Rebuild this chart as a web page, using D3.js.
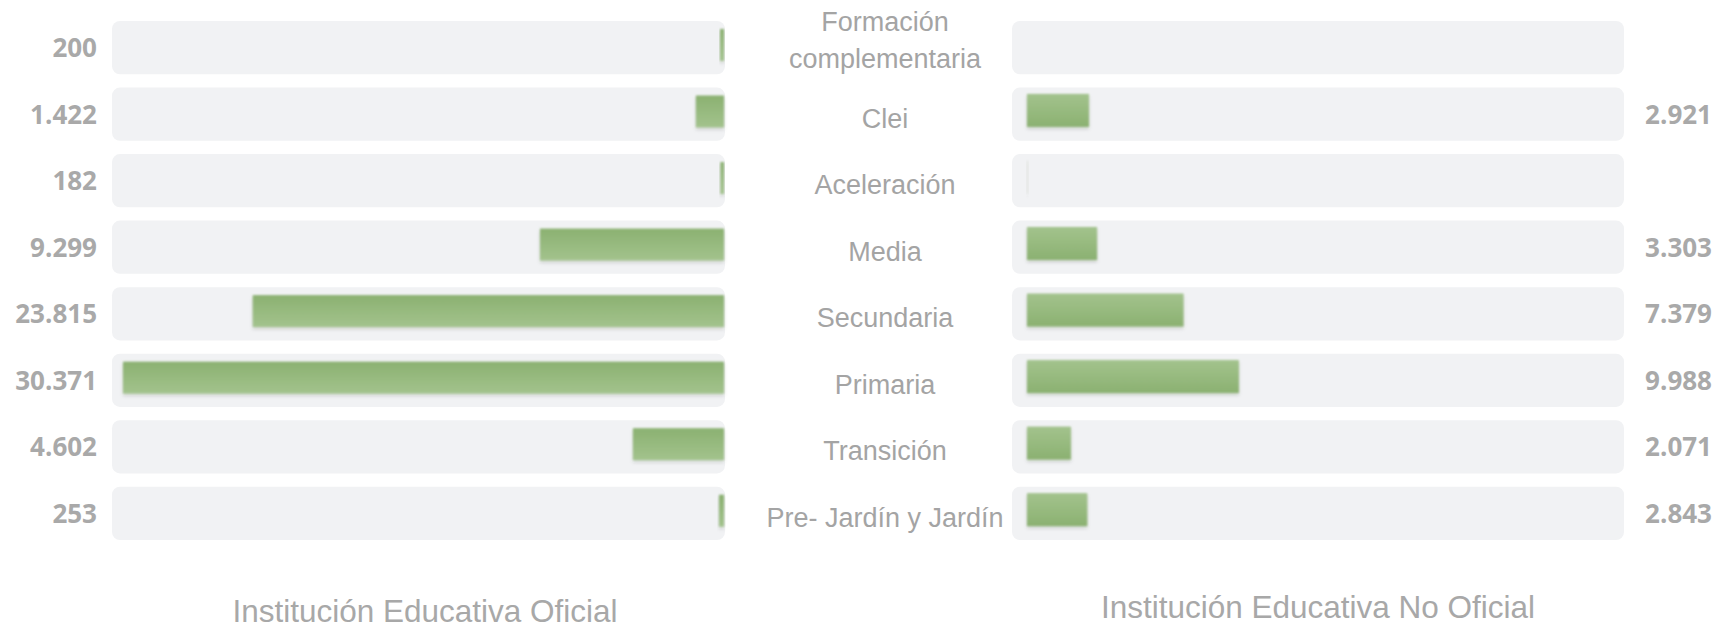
<!DOCTYPE html>
<html>
<head>
<meta charset="utf-8">
<script src="https://cdn.jsdelivr.net/npm/d3@7"></script>
<style>
  body { margin: 0; background: #fff; }
  svg { display: block; }
</style>
</head>
<body>
<div id="chart"></div>
<script>
// niveles educativos, de arriba hacia abajo
const categories = ["Formación complementaria", "Clei", "Aceleración", "Media", "Secundaria", "Primaria", "Transición", "Pre- Jardín y Jardín"];
const oficial = [200, 1422, 182, 9299, 23815, 30371, 4602, 253];
const noOficial = [null, 2921, 0, 3303, 7379, 9988, 2071, 2843];
const titles = ["Institución Educativa Oficial", "Institución Educativa No Oficial"];
const maxOficial = 30371;
const maxNoOficial = 28000;

const width = 1733, height = 630;

const es = d3.formatLocale({ decimal: ",", thousands: ".", grouping: [3], currency: ["$", ""] });
const fmt = es.format(",d");

const svg = d3.select("#chart")
  .append("svg")
  .attr("width", width)
  .attr("height", height);

const defs = svg.append("defs");

// degradado de las barras (el panel izquierdo esta invertido)
function addGradient(id, top, bottom) {
  const g = defs.append("linearGradient")
    .attr("id", id)
    .attr("x1", 0).attr("y1", 0).attr("x2", 0).attr("y2", 1);
  g.append("stop").attr("offset", "0%").attr("stop-color", top);
  g.append("stop").attr("offset", "100%").attr("stop-color", bottom);
}
addGradient("gLeft", "#8bb171", "#a3c38d");
addGradient("gRight", "#a3c38d", "#8bb171");

const shadow = defs.append("filter")
  .attr("id", "soft")
  .attr("x", "-20%").attr("y", "-40%")
  .attr("width", "140%").attr("height", "180%");
shadow.append("feGaussianBlur").attr("in", "SourceGraphic").attr("stdDeviation", 0.8).attr("result", "b");
shadow.append("feDropShadow").attr("in", "b").attr("dx", 0).attr("dy", 2)
  .attr("stdDeviation", 1.5).attr("flood-color", "#000").attr("flood-opacity", 0.18);

const y = d3.scaleBand()
  .domain(categories)
  .range([21, 540])
  .paddingInner(0.2)
  .paddingOuter(0);

const bw = y.bandwidth();

// escalas de cada panel
const xLeft = d3.scaleLinear().domain([0, maxOficial]).range([724, 123]);
const xRight = d3.scaleLinear().domain([0, maxNoOficial]).range([1027, 1621]);

const rowsL = categories.map((c, i) => ({ cat: c, v: oficial[i] }));
const rowsR = categories.map((c, i) => ({ cat: c, v: noOficial[i] }));

// fondos
svg.append("g").selectAll("rect")
  .data(categories)
  .join("rect")
  .attr("x", 112)
  .attr("y", d => y(d))
  .attr("width", 613)
  .attr("height", bw)
  .attr("rx", 8)
  .attr("fill", "#f1f2f4");

svg.append("g").selectAll("rect")
  .data(categories)
  .join("rect")
  .attr("x", 1012)
  .attr("y", d => y(d))
  .attr("width", 612)
  .attr("height", bw)
  .attr("rx", 8)
  .attr("fill", "#f1f2f4");

// barras oficial (crecen hacia la izquierda)
svg.append("g").selectAll("rect")
  .data(rowsL.filter(d => d.v != null))
  .join("rect")
  .attr("x", d => xLeft(d.v))
  .attr("y", d => y(d.cat) + bw * 0.15)
  .attr("width", d => Math.max(1, xLeft(0) - xLeft(d.v)))
  .attr("height", bw * 0.6)
  .attr("fill", "url(#gLeft)")
  .attr("filter", "url(#soft)");

// barras no oficial
svg.append("g").selectAll("rect")
  .data(rowsR.filter(d => d.v != null))
  .join("rect")
  .attr("x", xRight(0))
  .attr("y", d => y(d.cat) + bw * 0.12)
  .attr("width", d => Math.max(1, xRight(d.v) - xRight(0)))
  .attr("height", bw * 0.62)
  .attr("fill", d => d.v > 0 ? "url(#gRight)" : "#dfe3dc")
  .attr("filter", "url(#soft)");

// valores
svg.append("g").selectAll("text")
  .data(rowsL.filter(d => d.v != null))
  .join("text")
  .attr("x", 97)
  .attr("y", d => y(d.cat) + bw / 2)
  .attr("dy", "0.36em")
  .attr("text-anchor", "end")
  .attr("font-family", "'Open Sans', sans-serif")
  .attr("font-weight", 700)
  .attr("font-size", 26)
  .attr("fill", "#a9a9a9")
  .text(d => fmt(d.v));

svg.append("g").selectAll("text")
  .data(rowsR.filter(d => d.v > 0))
  .join("text")
  .attr("x", 1712)
  .attr("y", d => y(d.cat) + bw / 2)
  .attr("dy", "0.36em")
  .attr("text-anchor", "end")
  .attr("font-family", "'Open Sans', sans-serif")
  .attr("font-weight", 700)
  .attr("font-size", 26)
  .attr("fill", "#a9a9a9")
  .text(d => fmt(d.v));

// etiquetas centrales
const labels = svg.append("g").selectAll("text")
  .data(categories)
  .join("text")
  .attr("x", 885)
  .attr("y", d => y(d) + bw / 2)
  .attr("text-anchor", "middle")
  .attr("font-family", "'Liberation Sans', Arial, sans-serif")
  .attr("font-size", 27)
  .attr("fill", "#a4a4a4");

labels.each(function(d) {
  const t = d3.select(this);
  if (d === "Formación complementaria") {
    t.append("tspan").attr("x", 885).attr("dy", "-0.6em").text("Formación");
    t.append("tspan").attr("x", 885).attr("dy", "1.35em").text("complementaria");
  } else {
    t.attr("dy", "0.5em").text(d);
  }
});

// titulos de panel
svg.append("g").selectAll("text")
  .data(titles)
  .join("text")
  .attr("x", (d, i) => i === 0 ? 425 : 1318)
  .attr("y", (d, i) => i === 0 ? 622 : 618)
  .attr("text-anchor", "middle")
  .attr("font-family", "'Liberation Sans', Arial, sans-serif")
  .attr("font-size", 31.5)
  .attr("fill", "#a8a8a8")
  .text(d => d);
</script>
</body>
</html>
